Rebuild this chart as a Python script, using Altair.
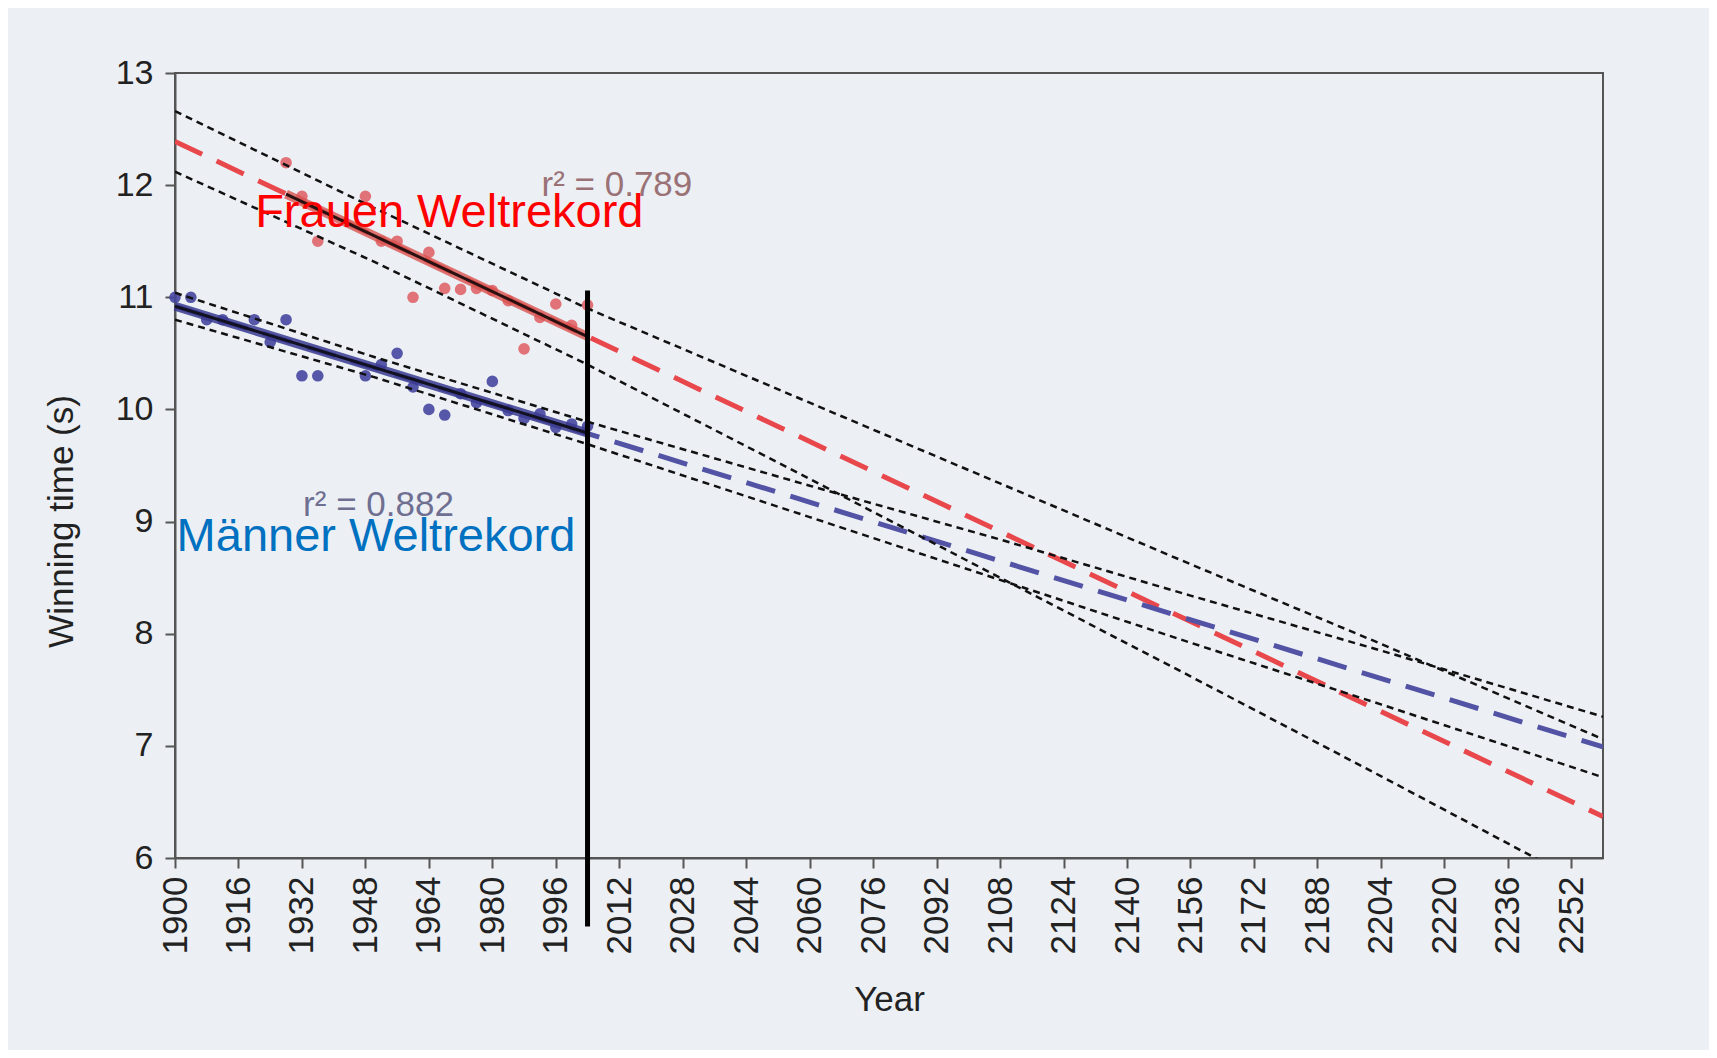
import altair as alt
import pandas as pd

# ---- data ----
men_years = [1900, 1904, 1908, 1912, 1920, 1924, 1928, 1932, 1936, 1948, 1952, 1956,
             1960, 1964, 1968, 1972, 1976, 1980, 1984, 1988, 1992, 1996, 2000, 2004]
men_times = [11.0, 11.0, 10.8, 10.8, 10.8, 10.6, 10.8, 10.3, 10.3, 10.3, 10.4, 10.5,
             10.2, 10.0, 9.95, 10.14, 10.06, 10.25, 9.99, 9.92, 9.96, 9.84, 9.87, 9.85]
women_years = [1928, 1932, 1936, 1948, 1952, 1956, 1960, 1964, 1968, 1972, 1976, 1980,
               1984, 1988, 1992, 1996, 2000, 2004]
women_times = [12.2, 11.9, 11.5, 11.9, 11.5, 11.5, 11.0, 11.4, 11.08, 11.07, 11.08, 11.06,
               10.97, 10.54, 10.82, 10.94, 10.75, 10.93]

fit_years = [1900, 2260]
women_fit = [12.39, 6.37]
men_fit = [10.92, 6.99]

women_solid_years = [1928, 2004]
women_solid = [11.92, 10.65]
men_solid_years = [1900, 2004]
men_solid = [10.92, 9.79]

band_years = [1900, 1950, 2004, 2060, 2108, 2156, 2204, 2260]
women_upper = [12.66, 11.80, 10.90, 10.06, 9.34, 8.62, 7.91, 7.06]
women_lower = [12.12, 11.32, 10.40, 9.38, 8.50, 7.62, 6.73, 5.68]
men_upper = [11.04, 10.47, 9.89, 9.32, 8.84, 8.34, 7.85, 7.26]
men_lower = [10.80, 10.29, 9.69, 9.04, 8.48, 7.92, 7.37, 6.72]

marker_year = [2004]
marker_top = [11.06]
marker_bottom = [5.39]

x_ticks = list(range(1900, 2253, 16))
y_ticks = [6, 7, 8, 9, 10, 11, 12, 13]

labels = ["Frauen Weltrekord", "Männer Weltrekord"]
label_years = [1920.2, 1900.4]
label_vals = [11.63, 8.74]
label_colors = ["#ff0000", "#0070c0"]

r2_texts = ["r\u00b2 = 0.789", "r\u00b2 = 0.882"]
r2_years = [1992.4, 1932.3]
r2_vals = [11.90, 9.05]
r2_colors = ["#9a7276", "#6f6f92"]

FONT = "Liberation Sans"

# ---- tables ----
pts_w = pd.DataFrame({"year": women_years, "t": women_times})
pts_m = pd.DataFrame({"year": men_years, "t": men_times})
fit_w = pd.DataFrame({"year": fit_years, "t": women_fit})
fit_m = pd.DataFrame({"year": fit_years, "t": men_fit})
sol_w = pd.DataFrame({"year": women_solid_years, "t": women_solid})
sol_m = pd.DataFrame({"year": men_solid_years, "t": men_solid})
bands = pd.concat([
    pd.DataFrame({"year": band_years, "t": women_upper, "s": "wu"}),
    pd.DataFrame({"year": band_years, "t": women_lower, "s": "wl"}),
    pd.DataFrame({"year": band_years, "t": men_upper, "s": "mu"}),
    pd.DataFrame({"year": band_years, "t": men_lower, "s": "ml"}),
])
marker = pd.DataFrame({"year": marker_year, "t": marker_top, "t2": marker_bottom})
lab = pd.DataFrame({"year": label_years, "t": label_vals, "txt": labels, "c": label_colors})
r2 = pd.DataFrame({"year": r2_years, "t": r2_vals, "txt": r2_texts, "c": r2_colors})

xaxis = alt.Axis(values=x_ticks, format="d", title="Year", labelAngle=270,
                 labelFontSize=35, titleFontSize=35, labelFont=FONT, titleFont=FONT,
                 labelColor="#222222", titleColor="#222222", titleFontWeight="normal",
                 grid=False, domainColor="#555555", domainWidth=2, tickColor="#555555",
                 tickWidth=2, tickSize=10, labelPadding=8, titleY=152,
                 titleBaseline="alphabetic", labelFlush=False, labelOverlap=False)
yaxis = alt.Axis(values=y_ticks, title="Winning time (s)", labelFontSize=34,
                 titleFontSize=35, labelFont=FONT, titleFont=FONT,
                 labelColor="#222222", titleColor="#222222", titleFontWeight="normal",
                 grid=False, domainColor="#555555", domainWidth=2, tickColor="#555555",
                 tickWidth=2, tickSize=10, labelPadding=12, titleX=-103, titleY=448,
                 titleAngle=270, titleAlign="center", titleBaseline="alphabetic",
                 labelFlush=False)

X = alt.X("year:Q", scale=alt.Scale(domain=[1900, 2260], nice=False, zero=False), axis=xaxis)
Y = alt.Y("t:Q", scale=alt.Scale(domain=[6, 13], nice=False, zero=False), axis=yaxis)

points_w = alt.Chart(pts_w).mark_circle(size=135, color="#de5c62", opacity=0.85).encode(x=X, y=Y)
points_m = alt.Chart(pts_m).mark_circle(size=135, color="#4646a0", opacity=0.9).encode(x=X, y=Y)

dash_w = alt.Chart(fit_w).mark_line(color="#e8474c", strokeWidth=5, strokeDash=[30, 16],
                                    clip=True).encode(x=X, y=Y)
dash_m = alt.Chart(fit_m).mark_line(color="#5353a6", strokeWidth=5, strokeDash=[30, 16],
                                    clip=True).encode(x=X, y=Y)

solid_w_wide = alt.Chart(sol_w).mark_line(color="#d9534f", strokeWidth=9, opacity=0.8).encode(x=X, y=Y)
solid_w = alt.Chart(sol_w).mark_line(color="#2a1010", strokeWidth=3).encode(x=X, y=Y)
solid_m_wide = alt.Chart(sol_m).mark_line(color="#3a3a90", strokeWidth=9, opacity=0.85).encode(x=X, y=Y)
solid_m = alt.Chart(sol_m).mark_line(color="#111122", strokeWidth=3).encode(x=X, y=Y)

band_lines = alt.Chart(bands).mark_line(color="#111111", strokeWidth=2.5, strokeDash=[7, 5],
                                        clip=True).encode(x=X, y=Y, detail="s:N")

vline = alt.Chart(marker).mark_rule(color="#000000", strokeWidth=5, clip=False).encode(
    x=X, y=Y, y2="t2:Q")

label_text = alt.Chart(lab).mark_text(font=FONT, fontSize=47, align="left",
                                      baseline="alphabetic").encode(
    x=X, y=Y, text="txt:N", color=alt.Color("c:N", scale=None))
r2_text = alt.Chart(r2).mark_text(font=FONT, fontSize=35, align="left",
                                  baseline="alphabetic").encode(
    x=X, y=Y, text="txt:N", color=alt.Color("c:N", scale=None))

chart = alt.layer(
    points_w, points_m, dash_w, dash_m, solid_w_wide, solid_m_wide, solid_w, solid_m,
    band_lines, r2_text, vline, label_text
).properties(
    width=1428, height=785,
    autosize=alt.AutoSizeParams(type="none"),
    padding={"left": 167, "top": 65, "right": 106, "bottom": 192},
    background="#ecf0f4",
).configure_view(stroke="#555555", strokeWidth=2, fill=None)

chart.save("out.html", embed_options={"renderer": "svg", "actions": False})
